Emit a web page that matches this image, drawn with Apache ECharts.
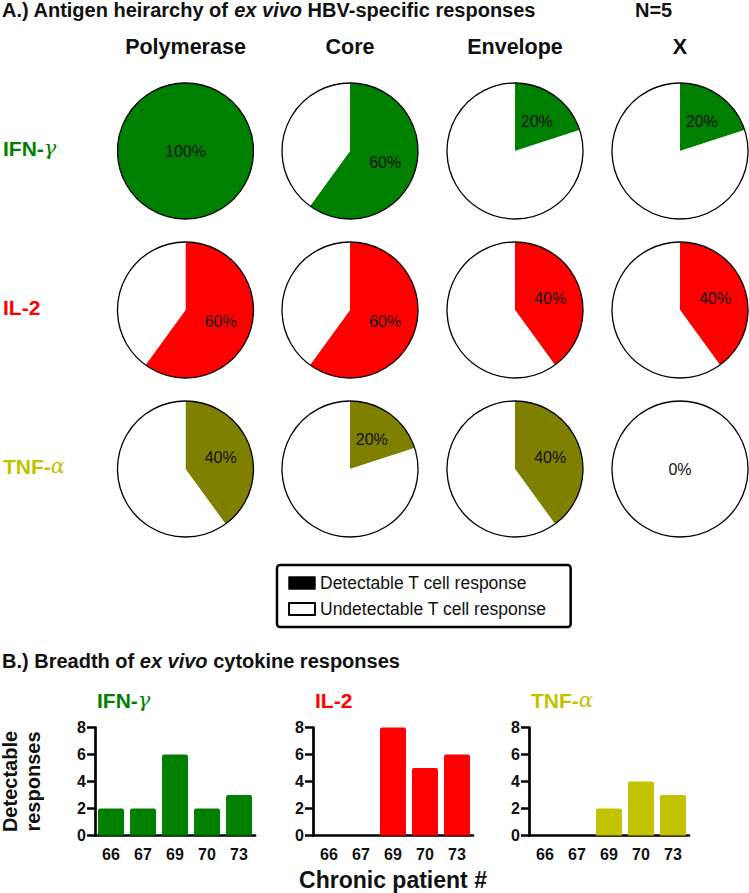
<!DOCTYPE html>
<html>
<head>
<meta charset="utf-8">
<script src="https://cdn.jsdelivr.net/npm/echarts@6/dist/echarts.min.js"></script>
<style>html,body{margin:0;padding:0;background:#fff}#c{width:749px;height:893px}</style>
</head>
<body>
<div id="c"></div>
<script>
// ---- data ----
const antigens = ['Polymerase', 'Core', 'Envelope', 'X'];
const cytokines = ['IFN-γ', 'IL-2', 'TNF-α'];
const ifnPct = [100, 60, 20, 20];
const il2Pct = [60, 60, 40, 40];
const tnfPct = [40, 20, 40, 0];
const patients = ['66', '67', '69', '70', '73'];
const ifnCounts = [2, 2, 6, 2, 3];
const il2Counts = [0, 0, 8, 5, 6];
const tnfCounts = [0, 0, 2, 4, 3];
const yTicks = [0, 2, 4, 6, 8];
const legendNames = ['Detectable T cell response', 'Undetectable T cell response'];

// ---- styles / layout ----
const FONT = "'Liberation Sans', Arial, Helvetica, sans-serif";
const pieColors = ['#008000', '#ff0000', '#808000'];
const barColors = ['#008000', '#ff0000', '#c2c200'];
const labelColors = ['#008000', '#ff0000', '#c2c200'];
const colX = [185.5, 350, 515, 680];
const rowY = [151, 310, 469];
const R = 68;
const gridLeft = [95, 313, 529];
const pctRows = [ifnPct, il2Pct, tnfPct];
const countRows = [ifnCounts, il2Counts, tnfCounts];

const series = [];
pctRows.forEach((row, r) => {
  row.forEach((p, c) => {
    const detLabel = (p > 0) ? {show: true, position: p === 100 ? 'center' : 'inner', formatter: p + '%'} : {show: false};
    const undetLabel = (p === 0) ? {show: true, position: 'center', formatter: p + '%'} : {show: false};
    series.push({
      type: 'pie', center: [colX[c], rowY[r]], radius: R, startAngle: 90, clockwise: true,
      silent: true, animation: false, avoidLabelOverlap: false, minShowLabelAngle: 0,
      label: {color: '#111', fontSize: 16, fontFamily: FONT},
      labelLine: {show: false},
      itemStyle: {borderWidth: 0},
      data: [
        {name: legendNames[0], value: p, itemStyle: {color: pieColors[r]}, label: detLabel},
        {name: legendNames[1], value: 100 - p, itemStyle: {color: '#ffffff'}, label: undetLabel}
      ],
      z: 2
    });
    // outline
    series.push({
      type: 'pie', center: [colX[c], rowY[r]], radius: R, silent: true, animation: false,
      label: {show: false}, labelLine: {show: false},
      itemStyle: {color: 'rgba(0,0,0,0)', borderColor: '#000', borderWidth: 1.3},
      data: [{name: 'outline', value: 1}],
      z: 3
    });
  });
});

const tickText = {color: '#111', fontSize: 16, fontWeight: 'bold', fontFamily: FONT};
const grids = [], xAxes = [], yAxes = [];
countRows.forEach((vals, i) => {
  grids.push({left: gridLeft[i], top: 727.5, width: 160, height: 108, containLabel: false, outerBoundsMode: 'none'});
  xAxes.push({
    type: 'category', gridIndex: i, data: patients, boundaryGap: true,
    axisLine: {lineStyle: {color: '#000', width: 2.7}},
    axisTick: {alignWithLabel: true, length: 7, lineStyle: {color: '#000', width: 2.5}},
    axisLabel: Object.assign({margin: 11, interval: 0, hideOverlap: false}, tickText),
    name: i === 1 ? 'Chronic patient #' : '', nameLocation: 'middle', nameGap: 33, nameMoveOverlap: false,
    nameTextStyle: {color: '#111', fontSize: 23, fontWeight: 'bold', fontFamily: FONT}
  });
  yAxes.push({
    type: 'value', gridIndex: i, min: yTicks[0], max: yTicks[yTicks.length - 1], interval: yTicks[1] - yTicks[0],
    splitLine: {show: false},
    axisLine: {show: true, lineStyle: {color: '#000', width: 2.7}},
    axisTick: {show: true, length: 8, lineStyle: {color: '#000', width: 2.5}},
    axisLabel: Object.assign({margin: 9, hideOverlap: false}, tickText),
    name: i === 0 ? 'Detectable\nresponses' : '', nameLocation: 'middle', nameRotate: 90, nameGap: 51, nameMoveOverlap: false,
    nameTextStyle: {color: '#111', fontSize: 20, fontWeight: 'bold', fontFamily: FONT, lineHeight: 23}
  });
  series.push({
    type: 'bar', xAxisIndex: i, yAxisIndex: i, data: vals, barWidth: 26, silent: true, animation: false,
    itemStyle: {color: barColors[i], borderRadius: [2, 2, 0, 0]}
  });
});

const greek = {fontSize: 21, fontWeight: 'normal', fontFamily: "'DejaVu Serif', serif", fontStyle: 'italic'};
function cytoText(name) {
  const m = name.match(/^(.*-)([γα])$/);
  return m ? '{b|' + m[1] + '}{g|' + m[2] + '}' : '{b|' + name + '}';
}

const graphic = [];
function txt(x, y, text, opts) {
  graphic.push({type: 'text', x: x, y: y, silent: true, style: Object.assign({
    text: text, fill: '#111', fontFamily: FONT, fontSize: 18, fontWeight: 'bold', align: 'left', verticalAlign: 'middle'
  }, opts || {})});
}
// Titles
txt(2, 10, '{b|A.) Antigen heirarchy of }{i|ex vivo}{b| HBV-specific responses}', {
  rich: {b: {fontSize: 20, fontWeight: 'bold', fontFamily: FONT, fill: '#111'}, i: {fontSize: 20, fontWeight: 'bold', fontStyle: 'italic', fontFamily: FONT, fill: '#111'}}
});
txt(635, 10, 'N=5', {fontSize: 20});
antigens.forEach((a, c) => txt(colX[c], 47, a, {fontSize: 21.5, align: 'center'}));
cytokines.forEach((cy, r) => txt(3, rowY[r] - 3, cytoText(cy), {
  rich: {b: {fontSize: 21, fontWeight: 'bold', fontFamily: FONT, fill: labelColors[r]}, g: Object.assign({fill: labelColors[r]}, greek)}
}));
txt(2, 661, '{b|B.) Breadth of }{i|ex vivo}{b| cytokine responses}', {
  rich: {b: {fontSize: 20, fontWeight: 'bold', fontFamily: FONT, fill: '#111'}, i: {fontSize: 20, fontWeight: 'bold', fontStyle: 'italic', fontFamily: FONT, fill: '#111'}}
});
cytokines.forEach((cy, i) => txt(gridLeft[i] + 2, 700, cytoText(cy), {
  rich: {b: {fontSize: 21, fontWeight: 'bold', fontFamily: FONT, fill: labelColors[i]}, g: Object.assign({fill: labelColors[i]}, greek)}
}));

const chart = echarts.init(document.getElementById('c'), null, {renderer: 'svg'});
chart.setOption({
  backgroundColor: '#fff',
  animation: false,
  legend: {
    left: 277, top: 565, orient: 'vertical', selectedMode: false,
    borderColor: '#000', borderWidth: 2.5, borderRadius: 3,
    padding: [9, 24, 9, 11], itemWidth: 26, itemHeight: 12, itemGap: 8, itemTextGap: 13,
    icon: 'rect',
    textStyle: {color: '#111', fontSize: 17.5, fontFamily: FONT},
    data: [
      {name: legendNames[0], itemStyle: {color: '#000', borderColor: '#000', borderWidth: 1.5}},
      {name: legendNames[1], itemStyle: {color: '#fff', borderColor: '#000', borderWidth: 2}}
    ]
  },
  grid: grids, xAxis: xAxes, yAxis: yAxes,
  series: series,
  graphic: graphic
});
</script>
</body>
</html>
